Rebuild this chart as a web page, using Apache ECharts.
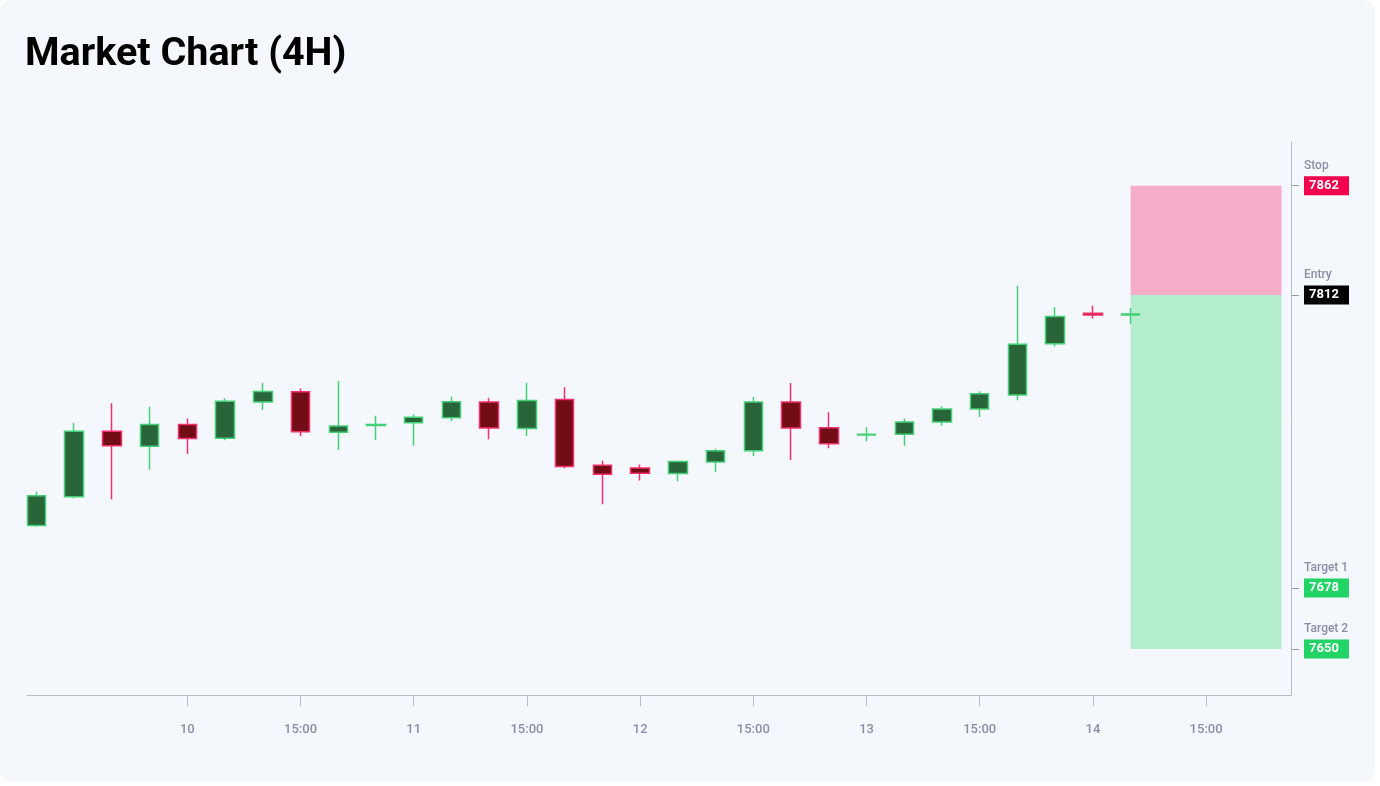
<!DOCTYPE html>
<html>
<head>
<meta charset="utf-8">
<script src="https://cdn.jsdelivr.net/npm/echarts@6/dist/echarts.min.js"></script>
<style>
  html, body { margin: 0; padding: 0; background: #fff; }
  #card { position: absolute; left: 0; top: 0; width: 1375px; height: 782px; background: #f4f7fc; border-radius: 12px; }
  #chart { position: absolute; left: 0; top: 0; width: 1380px; height: 786px; }
</style>
</head>
<body>
<div id="card"></div>
<div id="chart"></div>
<script>
// hours relative to day 10 00:00, one candle per 4H
var candleHours = [-16, -12, -8, -4, 0, 4, 8, 12, 16, 20, 24, 28, 32, 36, 40,
                   44, 48, 52, 56, 60, 64, 68, 72, 76, 80, 84, 88, 92, 96, 100];
var opens  = [7706.5, 7719.7, 7749.7, 7742.8, 7752.7, 7746.5, 7763.0, 7767.7, 7749.2, 7752.3,
              7753.6, 7755.8, 7763.1, 7750.9, 7764.2, 7734.1, 7732.9, 7730.3, 7735.6, 7740.8,
              7763.0, 7751.3, 7747.9, 7748.3, 7753.9, 7759.9, 7766.2, 7789.7, 7803.6, 7802.8];
var closes = [7720.2, 7749.7, 7743.0, 7752.7, 7746.3, 7763.4, 7767.8, 7749.4, 7752.1, 7752.8,
              7756.1, 7763.2, 7751.1, 7763.7, 7733.5, 7730.0, 7730.5, 7735.8, 7740.8, 7763.1,
              7751.1, 7743.9, 7748.3, 7753.9, 7759.8, 7766.8, 7789.5, 7802.2, 7802.8, 7803.3];
var lows   = [7706.0, 7719.0, 7718.5, 7732.0, 7739.3, 7745.6, 7759.4, 7747.5, 7741.1, 7745.7,
              7743.0, 7754.4, 7746.0, 7747.5, 7732.7, 7716.3, 7727.1, 7726.8, 7731.0, 7738.4,
              7736.5, 7741.9, 7745.1, 7743.0, 7752.2, 7756.2, 7763.9, 7788.4, 7801.2, 7798.8];
var highs  = [7722.0, 7753.6, 7762.5, 7760.9, 7755.5, 7764.8, 7771.9, 7769.2, 7772.7, 7756.8,
              7757.3, 7765.5, 7764.9, 7771.9, 7769.8, 7736.2, 7734.4, 7736.2, 7741.7, 7765.3,
              7771.7, 7758.4, 7751.5, 7755.5, 7761.1, 7768.0, 7816.2, 7806.5, 7807.1, 7806.0];

var tickHours  = [0, 12, 24, 36, 48, 60, 72, 84, 96, 108];
var tickLabels = ['10', '15:00', '11', '15:00', '12', '15:00', '13', '15:00', '14', '15:00'];

var levelNames  = ['Stop', 'Entry', 'Target 1', 'Target 2'];
var levelValues = [7862, 7812, 7678, 7650];
var levelKeys   = ['stop', 'entry', 'target', 'target'];

var zoneStart = 100, zoneEnd = 116;

var ohlc = candleHours.map(function (h, i) {
    return [h, opens[i], closes[i], lows[i], highs[i]];
});

var valueBox = function (bg) {
    return {
        color: '#fff', fontSize: 13, fontWeight: 'bold', fontFamily: 'Roboto',
        backgroundColor: bg, padding: [3, 5, 3, 5], width: 35, lineHeight: 15
    };
};

var myChart = echarts.init(document.getElementById('chart'));
var option = {
    backgroundColor: 'transparent',
    animation: false,
    title: {
        text: 'Market Chart (4H)',
        left: 25,
        top: 35,
        padding: 0,
        textStyle: { fontFamily: 'Roboto', fontSize: 39.5, fontWeight: 'bold', color: '#000' }
    },
    grid: { left: 27, right: 89, top: 142, bottom: 91 },
    xAxis: {
        type: 'value',
        min: -17,
        max: 117,
        splitLine: { show: false },
        axisLine: { onZero: false, lineStyle: { color: '#b9bcc7', width: 1 } },
        axisTick: { customValues: tickHours, length: 11, lineStyle: { color: '#b9bcc7' } },
        axisLabel: {
            customValues: tickHours,
            margin: 28,
            color: '#8b8ea6',
            fontSize: 13,
            fontWeight: 500,
            fontFamily: 'Roboto',
            formatter: function (v) {
                var i = tickHours.indexOf(v);
                return i >= 0 ? tickLabels[i] : '';
            }
        }
    },
    yAxis: {
        type: 'value',
        position: 'right',
        min: 7629,
        max: 7882,
        scale: true,
        splitLine: { show: false },
        axisLine: { show: true, onZero: false, lineStyle: { color: '#b9bcc7', width: 1 } },
        axisTick: { show: true, customValues: levelValues, length: 8, lineStyle: { color: '#9a9db0' } },
        axisLabel: {
            customValues: levelValues,
            margin: 13,
            align: 'left',
            formatter: function (v) {
                var i = levelValues.indexOf(v);
                if (i < 0) return '';
                return '{n|' + levelNames[i] + '}\n{' + levelKeys[i] + '|' + levelValues[i] + '}\n{n| }';
            },
            rich: {
                n: { color: '#8b8ea6', fontSize: 12, fontWeight: 500, fontFamily: 'Roboto', lineHeight: 25 },
                stop: valueBox('#f5004f'),
                entry: valueBox('#000000'),
                target: valueBox('#22d465')
            }
        }
    },
    series: [{
        name: 'price',
        type: 'candlestick',
        data: ohlc,
        encode: { x: 0, y: [1, 2, 3, 4] },
        barWidth: 19,
        itemStyle: {
            color: '#2a6539',
            color0: '#730d15',
            borderColor: '#45d078',
            borderColor0: '#f2306b',
            borderWidth: 1.5
        },
        markArea: {
            silent: true,
            data: [
                [{ xAxis: zoneStart, yAxis: levelValues[1], itemStyle: { color: '#f6adca' } },
                 { xAxis: zoneEnd, yAxis: levelValues[0] }],
                [{ xAxis: zoneStart, yAxis: levelValues[3], itemStyle: { color: '#b4eecd' } },
                 { xAxis: zoneEnd, yAxis: levelValues[1] }]
            ]
        },
        z: 3
    }]
};
myChart.setOption(option);
</script>
</body>
</html>
